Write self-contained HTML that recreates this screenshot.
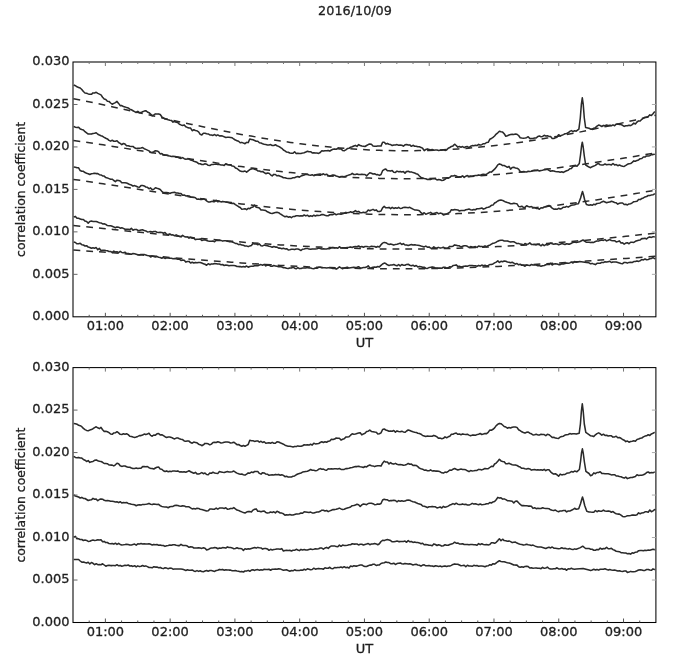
<!DOCTYPE html>
<html><head><meta charset="utf-8"><title>2016/10/09</title>
<style>html,body{margin:0;padding:0;background:#fff;width:674px;height:665px;overflow:hidden}svg{display:block}</style>
</head><body>
<svg width="674" height="665" viewBox="0 0 674 665" font-family="'DejaVu Sans', 'Liberation Sans', sans-serif" fill="#000"><style>text{fill:#1e1e1e;stroke:#1e1e1e;stroke-width:0.3px}</style><text x="355" y="14.8" text-anchor="middle" font-size="12.8">2016/10/09</text>
<polyline points="73.5,98.7 83.4,100.7 93.2,102.7 103.1,104.8 113.0,106.9 122.8,109.1 132.7,111.3 142.6,113.5 152.4,115.7 162.3,117.9 172.1,120.1 182.0,122.3 191.9,124.4 201.7,126.5 211.6,128.6 221.5,130.6 231.3,132.5 241.2,134.4 251.1,136.1 260.9,137.8 270.8,139.5 280.7,141.0 290.5,142.4 300.4,143.8 310.2,145.0 320.1,146.1 330.0,147.1 339.8,148.0 349.7,148.8 359.6,149.4 369.4,149.9 379.3,150.3 389.2,150.6 399.0,150.7 408.9,150.8 418.8,150.6 428.6,150.4 438.5,150.0 448.3,149.5 458.2,148.9 468.1,148.2 477.9,147.3 487.8,146.3 497.7,145.2 507.5,144.0 517.4,142.7 527.3,141.3 537.1,139.7 547.0,138.1 556.9,136.4 566.7,134.6 576.6,132.7 586.4,130.7 596.3,128.6 606.2,126.5 616.0,124.4 625.9,122.1 635.8,119.9 645.6,117.6 655.5,115.3" fill="none" stroke="#2a2a2a" stroke-width="1.5" stroke-dasharray="6.8,6" />
<polyline points="73.5,140.6 83.4,141.9 93.2,143.4 103.1,144.8 113.0,146.4 122.8,147.9 132.7,149.5 142.6,151.1 152.4,152.7 162.3,154.4 172.1,156.0 182.0,157.6 191.9,159.2 201.7,160.7 211.6,162.2 221.5,163.7 231.3,165.2 241.2,166.6 251.1,167.9 260.9,169.2 270.8,170.4 280.7,171.5 290.5,172.6 300.4,173.6 310.2,174.5 320.1,175.3 330.0,176.1 339.8,176.7 349.7,177.3 359.6,177.8 369.4,178.1 379.3,178.4 389.2,178.6 399.0,178.7 408.9,178.7 418.8,178.6 428.6,178.4 438.5,178.1 448.3,177.7 458.2,177.2 468.1,176.7 477.9,176.0 487.8,175.3 497.7,174.4 507.5,173.5 517.4,172.5 527.3,171.5 537.1,170.3 547.0,169.1 556.9,167.9 566.7,166.6 576.6,165.2 586.4,163.8 596.3,162.3 606.2,160.8 616.0,159.3 625.9,157.8 635.8,156.2 645.6,154.6 655.5,153.1" fill="none" stroke="#2a2a2a" stroke-width="1.5" stroke-dasharray="6.8,6" />
<polyline points="73.5,179.4 83.4,180.8 93.2,182.3 103.1,183.8 113.0,185.3 122.8,186.8 132.7,188.3 142.6,189.9 152.4,191.4 162.3,192.9 172.1,194.4 182.0,195.8 191.9,197.3 201.7,198.7 211.6,200.0 221.5,201.4 231.3,202.6 241.2,203.9 251.1,205.1 260.9,206.2 270.8,207.3 280.7,208.3 290.5,209.2 300.4,210.1 310.2,210.9 320.1,211.6 330.0,212.3 339.8,212.9 349.7,213.4 359.6,213.8 369.4,214.2 379.3,214.4 389.2,214.6 399.0,214.7 408.9,214.8 418.8,214.7 428.6,214.5 438.5,214.3 448.3,214.0 458.2,213.6 468.1,213.1 477.9,212.6 487.8,211.9 497.7,211.2 507.5,210.4 517.4,209.5 527.3,208.5 537.1,207.5 547.0,206.4 556.9,205.2 566.7,204.0 576.6,202.7 586.4,201.3 596.3,199.9 606.2,198.4 616.0,196.8 625.9,195.3 635.8,193.6 645.6,191.9 655.5,190.2" fill="none" stroke="#2a2a2a" stroke-width="1.5" stroke-dasharray="6.8,6" />
<polyline points="73.5,225.6 83.4,226.5 93.2,227.5 103.1,228.5 113.0,229.5 122.8,230.6 132.7,231.6 142.6,232.6 152.4,233.6 162.3,234.6 172.1,235.6 182.0,236.6 191.9,237.6 201.7,238.5 211.6,239.4 221.5,240.3 231.3,241.2 241.2,242.0 251.1,242.8 260.9,243.5 270.8,244.2 280.7,244.9 290.5,245.5 300.4,246.1 310.2,246.6 320.1,247.1 330.0,247.5 339.8,247.9 349.7,248.2 359.6,248.5 369.4,248.7 379.3,248.9 389.2,249.0 399.0,249.1 408.9,249.1 418.8,249.0 428.6,248.9 438.5,248.7 448.3,248.5 458.2,248.2 468.1,247.9 477.9,247.5 487.8,247.1 497.7,246.6 507.5,246.1 517.4,245.5 527.3,244.9 537.1,244.2 547.0,243.5 556.9,242.7 566.7,241.9 576.6,241.0 586.4,240.2 596.3,239.2 606.2,238.3 616.0,237.3 625.9,236.3 635.8,235.3 645.6,234.2 655.5,233.2" fill="none" stroke="#2a2a2a" stroke-width="1.5" stroke-dasharray="6.8,6" />
<polyline points="73.5,250.0 83.4,250.7 93.2,251.4 103.1,252.1 113.0,252.8 122.8,253.6 132.7,254.3 142.6,255.1 152.4,255.9 162.3,256.8 172.1,257.6 182.0,258.4 191.9,259.2 201.7,260.0 211.6,260.7 221.5,261.5 231.3,262.2 241.2,262.9 251.1,263.6 260.9,264.2 270.8,264.8 280.7,265.4 290.5,265.9 300.4,266.4 310.2,266.9 320.1,267.3 330.0,267.6 339.8,267.9 349.7,268.2 359.6,268.4 369.4,268.6 379.3,268.7 389.2,268.8 399.0,268.8 408.9,268.8 418.8,268.7 428.6,268.6 438.5,268.4 448.3,268.2 458.2,267.9 468.1,267.6 477.9,267.2 487.8,266.8 497.7,266.4 507.5,265.9 517.4,265.4 527.3,264.9 537.1,264.3 547.0,263.7 556.9,263.1 566.7,262.5 576.6,261.8 586.4,261.1 596.3,260.4 606.2,259.7 616.0,259.0 625.9,258.4 635.8,257.7 645.6,257.0 655.5,256.3" fill="none" stroke="#2a2a2a" stroke-width="1.5" stroke-dasharray="6.8,6" />
<polyline points="73.8,85.0 75.4,85.7 77.0,86.8 78.6,87.4 80.2,88.0 81.8,89.5 83.4,91.5 85.0,93.0 86.6,93.2 88.2,93.9 89.8,94.3 91.4,94.3 93.0,92.9 94.6,93.0 96.2,92.3 97.8,93.4 99.4,94.1 101.0,94.9 102.6,97.3 104.2,99.0 105.8,99.5 107.4,101.3 109.0,101.4 110.6,103.0 112.2,104.2 113.8,103.4 115.4,102.6 117.0,101.4 118.6,103.4 120.2,105.6 121.8,105.6 123.4,106.5 125.0,106.9 126.6,107.6 128.2,107.9 129.8,109.1 131.4,109.8 133.0,110.7 134.6,111.6 136.2,112.5 137.8,111.3 139.4,112.7 141.0,112.6 142.6,111.8 144.2,111.1 145.8,110.7 147.4,112.0 149.0,112.7 150.6,114.1 152.2,115.7 153.8,114.9 155.4,113.9 157.0,114.1 158.6,113.9 160.2,114.5 161.8,116.8 163.4,117.9 165.0,119.1 166.6,119.2 168.2,119.8 169.8,120.3 171.4,120.4 173.0,122.1 174.6,121.5 176.2,122.2 177.8,122.6 179.4,124.2 181.0,124.9 182.6,125.4 184.2,124.9 185.8,126.7 187.4,127.4 189.0,127.9 190.6,128.1 192.2,130.7 193.8,129.8 195.4,130.5 197.0,130.8 198.6,131.8 200.2,134.3 201.8,134.9 203.4,133.2 205.0,133.2 206.6,133.7 208.2,133.9 209.8,134.9 211.4,134.9 213.0,135.4 214.6,134.5 216.2,135.7 217.8,134.9 219.4,135.9 221.0,135.7 222.6,136.1 224.2,136.8 225.8,137.4 227.4,137.3 229.0,137.3 230.6,137.4 232.2,137.8 233.8,139.0 235.4,140.1 237.0,140.7 238.6,141.3 240.2,142.8 241.8,142.4 243.4,143.1 245.0,143.7 246.6,142.4 248.2,142.6 249.8,139.0 251.4,139.4 253.0,139.8 254.6,140.5 256.2,141.2 257.8,141.2 259.4,142.8 261.0,143.1 262.6,143.7 264.2,144.2 265.8,144.5 267.4,144.9 269.0,144.9 270.6,144.6 272.2,145.5 273.8,145.4 275.4,144.8 277.0,145.7 278.6,146.4 280.2,147.3 281.8,148.3 283.4,150.0 285.0,150.9 286.6,152.1 288.2,152.2 289.8,153.0 291.4,153.3 293.0,153.3 294.6,151.8 296.2,153.6 297.8,153.3 299.4,153.4 301.0,153.4 302.6,153.1 304.2,152.7 305.8,152.1 307.4,151.2 309.0,151.8 310.6,151.7 312.2,152.9 313.8,152.7 315.4,153.1 317.0,153.0 318.6,153.4 320.2,152.5 321.8,150.7 323.4,151.1 325.0,150.7 326.6,150.8 328.2,150.5 329.8,151.1 331.4,150.0 333.0,149.3 334.6,148.9 336.2,149.3 337.8,148.5 339.4,149.0 341.0,148.7 342.6,150.6 344.2,150.7 345.8,149.9 347.4,148.6 349.0,148.2 350.6,147.3 352.2,146.8 353.8,146.0 355.4,145.4 357.0,146.4 358.6,144.6 360.2,145.5 361.8,146.1 363.4,146.3 365.0,146.5 366.6,145.5 368.2,144.6 369.8,144.1 371.4,144.3 373.0,146.0 374.6,146.2 376.2,146.2 377.8,145.9 379.4,146.0 381.0,146.1 382.6,142.3 384.2,142.3 385.8,143.9 387.4,143.4 389.0,144.2 390.6,144.6 392.2,145.5 393.8,145.0 395.4,145.0 397.0,144.6 398.6,145.3 400.2,145.0 401.8,145.2 403.4,146.1 405.0,144.8 406.6,144.5 408.2,145.1 409.8,144.9 411.4,146.3 413.0,145.3 414.6,146.2 416.2,146.2 417.8,146.8 419.4,146.8 421.0,147.4 422.6,148.2 424.2,150.6 425.8,149.5 427.4,148.9 429.0,149.5 430.6,150.1 432.2,149.5 433.8,150.2 435.4,149.9 437.0,149.9 438.6,150.4 440.2,150.3 441.8,150.2 443.4,149.7 445.0,150.4 446.6,150.0 448.2,148.2 449.8,147.5 451.4,146.4 453.0,145.9 454.6,144.2 456.2,145.5 457.8,147.1 459.4,146.6 461.0,147.2 462.6,146.6 464.2,147.6 465.8,146.8 467.4,146.5 469.0,147.7 470.6,146.3 472.2,145.6 473.8,145.8 475.4,145.3 477.0,145.6 478.6,144.4 480.2,145.0 481.8,144.7 483.4,143.7 485.0,143.7 486.6,142.5 488.2,142.3 489.8,139.3 491.4,138.5 493.0,137.3 494.6,136.0 496.2,134.1 497.8,132.8 499.4,131.2 501.0,131.8 502.6,132.1 504.2,133.8 505.8,136.2 507.4,135.7 509.0,135.0 510.6,134.4 512.2,134.3 513.8,134.4 515.4,134.1 517.0,134.3 518.6,135.5 520.2,137.7 521.8,138.1 523.4,138.2 525.0,138.0 526.6,137.7 528.2,136.7 529.8,138.6 531.4,138.6 533.0,138.4 534.6,137.9 536.2,137.9 537.8,136.6 539.4,136.1 541.0,136.7 542.6,136.4 544.2,135.3 545.8,135.9 547.4,135.7 549.0,136.4 550.6,136.6 552.2,138.4 553.8,138.5 555.4,137.7 557.0,137.2 558.6,134.7 560.2,135.9 561.8,135.3 563.4,134.6 565.0,133.8 566.6,133.5 568.2,132.8 569.8,131.4 571.4,130.6 573.0,131.6 574.6,130.7 576.2,131.2 578.9,129.1 580.3,118.0 581.4,104.0 582.3,97.8 583.2,104.0 584.3,118.0 585.6,127.5 589.0,128.2 590.6,129.1 592.2,129.1 593.8,128.3 595.4,127.6 597.0,126.1 598.6,125.1 600.2,125.6 601.8,126.5 603.4,125.4 605.0,125.8 606.6,125.0 608.2,125.4 609.8,125.3 611.4,125.7 613.0,124.9 614.6,125.7 616.2,124.1 617.8,124.1 619.4,124.4 621.0,124.6 622.6,125.3 624.2,126.4 625.8,125.7 627.4,125.8 629.0,125.3 630.6,125.6 632.2,124.6 633.8,123.1 635.4,124.0 637.0,122.0 638.6,120.9 640.2,121.0 641.8,119.3 643.4,118.1 645.0,117.3 646.6,117.0 648.2,116.5 649.8,114.9 651.4,115.5 653.0,113.7 654.6,111.8 654.8,111.8" fill="none" stroke="#2a2a2a" stroke-width="1.55" stroke-linejoin="round" />
<polyline points="73.8,126.4 75.4,127.2 77.0,127.5 78.6,127.2 80.2,128.9 81.8,129.5 83.4,129.9 85.0,131.7 86.6,132.9 88.2,134.0 89.8,133.9 91.4,134.1 93.0,133.5 94.6,133.3 96.2,132.7 97.8,134.2 99.4,135.0 101.0,135.7 102.6,136.3 104.2,137.4 105.8,138.3 107.4,138.9 109.0,140.4 110.6,141.1 112.2,140.3 113.8,141.2 115.4,141.2 117.0,140.8 118.6,142.5 120.2,143.4 121.8,144.6 123.4,143.5 125.0,144.1 126.6,145.7 128.2,145.7 129.8,146.3 131.4,146.4 133.0,146.4 134.6,147.8 136.2,148.4 137.8,148.3 139.4,148.2 141.0,148.1 142.6,147.6 144.2,148.7 145.8,149.4 147.4,150.1 149.0,150.9 150.6,152.3 152.2,152.5 153.8,151.7 155.4,150.7 157.0,150.9 158.6,151.7 160.2,153.9 161.8,153.6 163.4,155.1 165.0,155.3 166.6,155.2 168.2,155.8 169.8,156.1 171.4,156.4 173.0,156.2 174.6,156.4 176.2,157.3 177.8,157.3 179.4,157.9 181.0,158.4 182.6,157.6 184.2,158.7 185.8,159.3 187.4,158.9 189.0,158.8 190.6,160.1 192.2,160.4 193.8,161.2 195.4,161.7 197.0,162.3 198.6,163.7 200.2,163.7 201.8,164.5 203.4,164.4 205.0,163.8 206.6,164.2 208.2,165.3 209.8,165.5 211.4,164.6 213.0,164.5 214.6,164.3 216.2,163.9 217.8,164.5 219.4,164.6 221.0,164.9 222.6,165.0 224.2,165.4 225.8,163.7 227.4,164.4 229.0,164.7 230.6,164.7 232.2,166.1 233.8,166.3 235.4,167.9 237.0,168.5 238.6,169.9 240.2,171.0 241.8,171.5 243.4,171.6 245.0,171.0 246.6,172.2 248.2,170.8 249.8,169.6 251.4,169.0 253.0,168.5 254.6,169.2 256.2,169.7 257.8,170.9 259.4,171.0 261.0,171.8 262.6,171.5 264.2,172.6 265.8,173.7 267.4,173.0 269.0,173.3 270.6,174.8 272.2,175.9 273.8,174.4 275.4,174.5 277.0,175.8 278.6,175.6 280.2,176.2 281.8,176.8 283.4,177.7 285.0,177.7 286.6,178.3 288.2,178.4 289.8,178.5 291.4,178.4 293.0,177.7 294.6,177.8 296.2,176.9 297.8,176.5 299.4,177.2 301.0,176.0 302.6,175.4 304.2,175.0 305.8,174.3 307.4,174.6 309.0,175.1 310.6,175.2 312.2,174.7 313.8,175.7 315.4,175.1 317.0,174.6 318.6,174.3 320.2,174.1 321.8,174.7 323.4,173.8 325.0,174.8 326.6,174.2 328.2,175.6 329.8,176.2 331.4,175.4 333.0,174.9 334.6,175.3 336.2,176.0 337.8,176.4 339.4,177.2 341.0,176.6 342.6,176.4 344.2,176.8 345.8,176.2 347.4,175.6 349.0,174.9 350.6,174.6 352.2,173.4 353.8,174.5 355.4,174.4 357.0,173.9 358.6,174.5 360.2,174.6 361.8,174.3 363.4,174.6 365.0,174.5 366.6,175.9 368.2,174.3 369.8,172.8 371.4,173.2 373.0,174.0 374.6,173.7 376.2,174.7 377.8,174.6 379.4,175.4 381.0,174.5 382.6,170.7 384.2,169.6 385.8,169.1 387.4,170.8 389.0,170.7 390.6,171.1 392.2,170.6 393.8,172.2 395.4,172.4 397.0,171.1 398.6,171.8 400.2,171.4 401.8,172.0 403.4,171.6 405.0,173.1 406.6,171.4 408.2,171.3 409.8,172.0 411.4,171.9 413.0,172.6 414.6,173.0 416.2,173.7 417.8,174.3 419.4,176.0 421.0,177.4 422.6,177.9 424.2,178.5 425.8,178.8 427.4,179.5 429.0,179.2 430.6,179.4 432.2,178.8 433.8,178.8 435.4,178.8 437.0,180.0 438.6,179.5 440.2,179.8 441.8,180.5 443.4,180.2 445.0,179.3 446.6,178.0 448.2,178.3 449.8,177.4 451.4,175.9 453.0,176.1 454.6,175.4 456.2,175.9 457.8,176.9 459.4,176.7 461.0,176.8 462.6,175.9 464.2,177.4 465.8,176.2 467.4,175.6 469.0,176.5 470.6,176.0 472.2,176.2 473.8,175.7 475.4,175.6 477.0,175.5 478.6,174.9 480.2,175.3 481.8,174.6 483.4,174.2 485.0,174.4 486.6,174.2 488.2,173.1 489.8,172.0 491.4,172.1 493.0,170.6 494.6,169.2 496.2,167.3 497.8,164.9 499.4,163.9 501.0,164.4 502.6,165.6 504.2,165.5 505.8,166.4 507.4,167.3 509.0,166.3 510.6,169.1 512.2,167.5 513.8,167.3 515.4,167.9 517.0,168.2 518.6,169.1 520.2,171.5 521.8,171.9 523.4,171.5 525.0,171.8 526.6,172.0 528.2,171.2 529.8,171.5 531.4,171.2 533.0,170.6 534.6,170.2 536.2,170.6 537.8,170.2 539.4,171.0 541.0,170.4 542.6,170.3 544.2,169.6 545.8,169.6 547.4,169.4 549.0,170.4 550.6,171.3 552.2,170.7 553.8,171.0 555.4,171.6 557.0,171.7 558.6,171.8 560.2,172.3 561.8,171.8 563.4,172.4 565.0,171.5 566.6,170.8 568.2,170.3 569.8,168.8 571.4,168.5 573.0,166.4 574.6,165.9 576.2,166.1 577.0,166.3 579.3,163.5 580.5,155.0 581.5,146.5 582.3,142.2 583.2,147.0 584.3,156.0 585.7,165.0 589.0,167.1 590.6,167.7 592.2,166.7 593.8,166.1 595.4,165.4 597.0,164.1 598.6,163.6 600.2,164.8 601.8,164.9 603.4,164.9 605.0,164.0 606.6,164.8 608.2,164.4 609.8,164.5 611.4,164.9 613.0,163.5 614.6,164.9 616.2,164.6 617.8,165.7 619.4,165.1 621.0,165.7 622.6,166.2 624.2,166.4 625.8,165.4 627.4,164.3 629.0,163.8 630.6,163.6 632.2,162.4 633.8,160.9 635.4,161.3 637.0,160.4 638.6,159.9 640.2,158.7 641.8,158.5 643.4,157.0 645.0,157.0 646.6,155.9 648.2,155.9 649.8,155.7 651.4,154.6 653.0,154.6 654.6,154.3 654.8,154.2" fill="none" stroke="#2a2a2a" stroke-width="1.55" stroke-linejoin="round" />
<polyline points="73.8,167.0 75.4,167.2 77.0,167.7 78.6,167.8 80.2,170.6 81.8,171.2 83.4,171.3 85.0,172.6 86.6,173.2 88.2,173.7 89.8,174.5 91.4,173.8 93.0,173.6 94.6,173.2 96.2,173.6 97.8,173.6 99.4,174.7 101.0,174.9 102.6,175.9 104.2,176.1 105.8,177.6 107.4,177.9 109.0,178.6 110.6,179.3 112.2,179.2 113.8,180.5 115.4,181.6 117.0,180.2 118.6,180.4 120.2,180.9 121.8,182.8 123.4,182.7 125.0,182.7 126.6,183.0 128.2,183.7 129.8,184.6 131.4,185.0 133.0,186.1 134.6,185.6 136.2,186.3 137.8,187.0 139.4,187.2 141.0,185.6 142.6,185.5 144.2,185.9 145.8,187.0 147.4,187.3 149.0,188.7 150.6,187.9 152.2,189.8 153.8,189.3 155.4,187.8 157.0,188.3 158.6,188.7 160.2,189.5 161.8,191.3 163.4,192.7 165.0,192.5 166.6,192.6 168.2,192.7 169.8,193.4 171.4,192.8 173.0,192.5 174.6,192.3 176.2,193.1 177.8,193.0 179.4,193.4 181.0,193.4 182.6,195.3 184.2,195.0 185.8,195.9 187.4,195.8 189.0,195.9 190.6,197.0 192.2,197.3 193.8,197.2 195.4,197.7 197.0,199.3 198.6,199.1 200.2,199.4 201.8,199.4 203.4,198.8 205.0,199.4 206.6,200.8 208.2,201.9 209.8,202.0 211.4,201.4 213.0,201.6 214.6,201.6 216.2,200.4 217.8,201.8 219.4,201.2 221.0,201.9 222.6,201.4 224.2,201.7 225.8,202.0 227.4,202.3 229.0,202.8 230.6,203.2 232.2,203.4 233.8,203.3 235.4,204.6 237.0,205.6 238.6,206.7 240.2,207.5 241.8,209.2 243.4,209.0 245.0,208.7 246.6,209.7 248.2,208.3 249.8,208.7 251.4,207.4 253.0,207.0 254.6,205.1 256.2,207.2 257.8,207.5 259.4,208.0 261.0,210.0 262.6,210.1 264.2,210.2 265.8,210.6 267.4,211.8 269.0,212.5 270.6,213.2 272.2,213.5 273.8,212.9 275.4,212.4 277.0,212.3 278.6,212.7 280.2,213.9 281.8,214.8 283.4,215.9 285.0,216.7 286.6,216.2 288.2,217.2 289.8,216.7 291.4,217.7 293.0,216.5 294.6,216.5 296.2,215.8 297.8,215.7 299.4,216.1 301.0,215.7 302.6,216.0 304.2,215.0 305.8,215.9 307.4,215.2 309.0,216.5 310.6,215.7 312.2,216.4 313.8,215.2 315.4,216.0 317.0,215.3 318.6,215.4 320.2,215.2 321.8,214.6 323.4,214.6 325.0,215.3 326.6,215.8 328.2,215.7 329.8,214.8 331.4,214.6 333.0,214.6 334.6,213.6 336.2,214.8 337.8,214.1 339.4,213.9 341.0,214.3 342.6,213.8 344.2,213.3 345.8,212.4 347.4,212.8 349.0,212.6 350.6,211.8 352.2,212.4 353.8,211.8 355.4,210.6 357.0,211.8 358.6,211.4 360.2,212.7 361.8,212.8 363.4,212.3 365.0,212.8 366.6,211.9 368.2,210.1 369.8,210.7 371.4,210.1 373.0,209.4 374.6,210.4 376.2,209.9 377.8,211.5 379.4,211.6 381.0,211.0 382.6,207.8 384.2,206.4 385.8,207.8 387.4,207.8 389.0,207.4 390.6,208.7 392.2,207.4 393.8,208.4 395.4,207.8 397.0,208.3 398.6,207.3 400.2,208.5 401.8,208.2 403.4,207.4 405.0,207.3 406.6,207.5 408.2,207.7 409.8,207.3 411.4,208.3 413.0,209.1 414.6,209.9 416.2,210.1 417.8,210.3 419.4,210.7 421.0,212.7 422.6,213.8 424.2,212.7 425.8,214.3 427.4,213.6 429.0,213.1 430.6,212.4 432.2,213.6 433.8,213.6 435.4,213.0 437.0,212.5 438.6,213.8 440.2,213.1 441.8,213.4 443.4,215.0 445.0,214.6 446.6,213.9 448.2,213.1 449.8,212.3 451.4,209.7 453.0,210.1 454.6,209.6 456.2,209.7 457.8,209.9 459.4,211.0 461.0,210.6 462.6,210.5 464.2,210.6 465.8,209.7 467.4,209.4 469.0,209.1 470.6,209.7 472.2,210.1 473.8,209.5 475.4,209.7 477.0,208.8 478.6,208.8 480.2,208.4 481.8,208.0 483.4,209.1 485.0,208.5 486.6,207.6 488.2,207.2 489.8,206.7 491.4,205.3 493.0,205.1 494.6,203.0 496.2,202.2 497.8,201.0 499.4,200.2 501.0,200.1 502.6,200.4 504.2,201.3 505.8,202.1 507.4,202.6 509.0,203.0 510.6,203.8 512.2,203.7 513.8,203.2 515.4,203.6 517.0,203.8 518.6,206.4 520.2,206.7 521.8,206.2 523.4,207.4 525.0,207.4 526.6,205.7 528.2,206.5 529.8,206.9 531.4,206.6 533.0,207.4 534.6,207.6 536.2,208.4 537.8,208.4 539.4,209.2 541.0,207.7 542.6,208.0 544.2,207.0 545.8,206.7 547.4,206.0 549.0,205.5 550.6,206.6 552.2,208.1 553.8,209.2 555.4,209.0 557.0,209.3 558.6,208.3 560.2,209.0 561.8,208.4 563.4,207.2 565.0,207.2 566.6,206.4 568.2,207.1 569.8,206.1 571.4,205.3 573.0,205.0 574.6,204.7 576.2,204.0 578.4,203.7 580.6,198.0 581.7,194.0 582.5,191.5 583.4,194.5 584.6,199.5 586.4,204.6 589.0,205.2 590.6,204.8 592.2,205.3 593.8,204.2 595.4,204.7 597.0,203.4 598.6,203.2 600.2,202.9 601.8,201.9 603.4,201.3 605.0,202.0 606.6,202.8 608.2,202.3 609.8,202.1 611.4,201.2 613.0,201.8 614.6,202.5 616.2,202.8 617.8,204.1 619.4,203.3 621.0,203.1 622.6,203.0 624.2,204.5 625.8,204.3 627.4,204.9 629.0,203.9 630.6,203.7 632.2,202.9 633.8,201.7 635.4,201.6 637.0,201.3 638.6,199.4 640.2,199.6 641.8,198.5 643.4,197.9 645.0,196.9 646.6,196.6 648.2,195.5 649.8,195.6 651.4,194.9 653.0,194.7 654.6,194.0 654.8,194.2" fill="none" stroke="#2a2a2a" stroke-width="1.55" stroke-linejoin="round" />
<polyline points="73.8,217.0 75.4,216.4 77.0,218.2 78.6,218.3 80.2,218.9 81.8,219.5 83.4,219.5 85.0,221.1 86.6,221.5 88.2,223.1 89.8,221.5 91.4,221.1 93.0,221.4 94.6,221.4 96.2,221.5 97.8,222.1 99.4,222.8 101.0,222.9 102.6,223.9 104.2,223.8 105.8,224.4 107.4,225.6 109.0,225.7 110.6,225.7 112.2,226.3 113.8,226.9 115.4,227.7 117.0,226.9 118.6,227.2 120.2,228.2 121.8,227.7 123.4,228.4 125.0,229.2 126.6,229.2 128.2,229.2 129.8,229.7 131.4,228.3 133.0,230.2 134.6,229.6 136.2,229.4 137.8,230.3 139.4,230.5 141.0,230.0 142.6,229.8 144.2,230.6 145.8,230.9 147.4,231.9 149.0,231.8 150.6,231.6 152.2,232.1 153.8,231.6 155.4,231.4 157.0,232.3 158.6,232.5 160.2,232.3 161.8,232.4 163.4,233.3 165.0,232.5 166.6,234.3 168.2,234.5 169.8,233.9 171.4,235.0 173.0,234.8 174.6,235.8 176.2,234.9 177.8,235.6 179.4,236.4 181.0,236.8 182.6,235.4 184.2,236.4 185.8,237.0 187.4,236.8 189.0,238.1 190.6,237.2 192.2,238.3 193.8,238.1 195.4,239.6 197.0,239.2 198.6,239.3 200.2,238.9 201.8,240.5 203.4,239.9 205.0,239.8 206.6,240.4 208.2,240.9 209.8,241.3 211.4,241.2 213.0,241.0 214.6,241.7 216.2,240.2 217.8,240.4 219.4,240.2 221.0,240.4 222.6,241.1 224.2,240.8 225.8,240.8 227.4,241.3 229.0,241.6 230.6,241.6 232.2,242.1 233.8,242.6 235.4,243.4 237.0,243.6 238.6,244.6 240.2,244.3 241.8,245.1 243.4,245.3 245.0,245.9 246.6,245.9 248.2,246.6 249.8,245.9 251.4,245.5 253.0,243.5 254.6,243.9 256.2,243.9 257.8,244.8 259.4,243.9 261.0,245.7 262.6,245.9 264.2,245.1 265.8,245.4 267.4,245.7 269.0,246.2 270.6,246.6 272.2,247.3 273.8,246.5 275.4,247.1 277.0,247.1 278.6,248.1 280.2,248.1 281.8,248.8 283.4,248.2 285.0,248.9 286.6,248.7 288.2,249.9 289.8,249.7 291.4,249.3 293.0,249.2 294.6,249.6 296.2,249.1 297.8,249.0 299.4,249.6 301.0,250.5 302.6,249.2 304.2,249.0 305.8,248.6 307.4,248.4 309.0,249.1 310.6,249.3 312.2,248.9 313.8,249.0 315.4,248.9 317.0,248.8 318.6,248.0 320.2,248.4 321.8,248.9 323.4,248.7 325.0,249.0 326.6,248.9 328.2,248.6 329.8,248.6 331.4,247.7 333.0,247.6 334.6,247.9 336.2,247.7 337.8,248.3 339.4,246.7 341.0,248.1 342.6,247.7 344.2,247.7 345.8,247.7 347.4,247.5 349.0,247.3 350.6,246.9 352.2,247.5 353.8,246.7 355.4,246.6 357.0,246.8 358.6,246.0 360.2,247.0 361.8,246.5 363.4,247.2 365.0,246.5 366.6,246.6 368.2,246.8 369.8,246.9 371.4,246.2 373.0,246.6 374.6,246.5 376.2,247.3 377.8,246.4 379.4,247.0 381.0,244.7 382.6,243.1 384.2,242.4 385.8,242.7 387.4,243.7 389.0,244.4 390.6,244.1 392.2,244.5 393.8,245.1 395.4,244.4 397.0,244.2 398.6,243.8 400.2,243.1 401.8,244.5 403.4,243.6 405.0,245.0 406.6,244.9 408.2,245.4 409.8,244.9 411.4,244.5 413.0,245.1 414.6,244.8 416.2,245.1 417.8,245.3 419.4,245.6 421.0,246.1 422.6,246.4 424.2,246.9 425.8,246.1 427.4,247.2 429.0,246.9 430.6,248.1 432.2,248.3 433.8,246.9 435.4,248.0 437.0,247.8 438.6,247.4 440.2,248.1 441.8,247.8 443.4,247.3 445.0,248.1 446.6,248.2 448.2,247.7 449.8,246.4 451.4,246.6 453.0,246.2 454.6,244.9 456.2,245.3 457.8,245.8 459.4,245.8 461.0,247.0 462.6,246.3 464.2,245.7 465.8,245.8 467.4,246.3 469.0,247.5 470.6,246.6 472.2,246.9 473.8,247.0 475.4,246.6 477.0,247.4 478.6,246.0 480.2,246.6 481.8,246.4 483.4,246.7 485.0,245.9 486.6,246.8 488.2,245.5 489.8,245.2 491.4,244.1 493.0,243.3 494.6,242.9 496.2,242.2 497.8,241.2 499.4,240.5 501.0,240.3 502.6,240.3 504.2,240.9 505.8,241.0 507.4,240.9 509.0,241.5 510.6,242.0 512.2,241.8 513.8,241.8 515.4,242.6 517.0,243.6 518.6,243.4 520.2,244.1 521.8,244.3 523.4,245.0 525.0,243.6 526.6,244.2 528.2,244.1 529.8,242.9 531.4,244.4 533.0,244.5 534.6,244.5 536.2,244.9 537.8,244.2 539.4,244.7 541.0,245.8 542.6,244.4 544.2,245.6 545.8,244.6 547.4,244.9 549.0,244.3 550.6,243.1 552.2,243.8 553.8,244.3 555.4,243.8 557.0,243.9 558.6,244.8 560.2,244.3 561.8,243.6 563.4,243.9 565.0,244.5 566.6,243.7 568.2,244.1 569.8,244.1 571.4,243.2 573.0,242.4 574.6,242.1 576.2,242.4 579.6,241.8 583.0,240.0 586.5,242.3 589.0,242.2 590.6,242.6 592.2,242.3 593.8,242.4 595.4,241.5 597.0,241.0 598.6,241.1 600.2,240.4 601.8,240.1 603.4,240.4 605.0,239.6 606.6,240.9 608.2,240.2 609.8,239.6 611.4,240.5 613.0,240.8 614.6,240.7 616.2,241.9 617.8,241.5 619.4,240.9 621.0,243.0 622.6,242.8 624.2,244.1 625.8,243.1 627.4,242.7 629.0,243.8 630.6,242.2 632.2,242.3 633.8,242.4 635.4,241.3 637.0,240.7 638.6,240.2 640.2,239.9 641.8,238.6 643.4,238.6 645.0,238.3 646.6,238.9 648.2,237.5 649.8,236.9 651.4,237.4 653.0,236.7 654.6,236.8 654.8,236.6" fill="none" stroke="#2a2a2a" stroke-width="1.55" stroke-linejoin="round" />
<polyline points="73.8,242.1 75.4,242.5 77.0,243.8 78.6,243.8 80.2,243.3 81.8,244.7 83.4,245.0 85.0,246.0 86.6,245.7 88.2,247.1 89.8,247.5 91.4,248.3 93.0,247.8 94.6,248.2 96.2,247.6 97.8,249.7 99.4,248.4 101.0,250.4 102.6,250.3 104.2,250.3 105.8,250.6 107.4,250.8 109.0,251.5 110.6,251.5 112.2,252.4 113.8,251.1 115.4,252.0 117.0,251.7 118.6,252.6 120.2,251.4 121.8,252.4 123.4,252.8 125.0,252.2 126.6,253.5 128.2,253.4 129.8,254.0 131.4,254.2 133.0,253.5 134.6,253.7 136.2,254.2 137.8,254.7 139.4,254.9 141.0,254.4 142.6,254.5 144.2,254.6 145.8,255.0 147.4,255.4 149.0,255.7 150.6,257.0 152.2,256.0 153.8,256.4 155.4,257.0 157.0,256.6 158.6,257.2 160.2,257.6 161.8,258.2 163.4,257.3 165.0,258.5 166.6,257.7 168.2,258.0 169.8,258.3 171.4,258.3 173.0,258.7 174.6,258.6 176.2,258.8 177.8,259.3 179.4,259.1 181.0,260.5 182.6,260.0 184.2,260.2 185.8,262.1 187.4,261.5 189.0,261.4 190.6,263.0 192.2,262.2 193.8,263.0 195.4,262.4 197.0,262.8 198.6,262.4 200.2,262.5 201.8,263.1 203.4,263.7 205.0,264.3 206.6,265.2 208.2,263.7 209.8,264.7 211.4,263.9 213.0,264.1 214.6,263.6 216.2,263.7 217.8,264.1 219.4,264.0 221.0,264.7 222.6,264.5 224.2,265.5 225.8,265.1 227.4,265.2 229.0,265.8 230.6,265.6 232.2,265.5 233.8,265.6 235.4,265.8 237.0,266.5 238.6,266.6 240.2,266.6 241.8,267.0 243.4,266.6 245.0,267.0 246.6,266.0 248.2,267.2 249.8,266.5 251.4,266.3 253.0,266.3 254.6,265.8 256.2,265.4 257.8,265.8 259.4,265.1 261.0,264.6 262.6,265.3 264.2,264.4 265.8,265.9 267.4,265.1 269.0,265.2 270.6,266.2 272.2,266.2 273.8,265.5 275.4,265.9 277.0,266.3 278.6,266.8 280.2,266.4 281.8,266.9 283.4,267.8 285.0,267.7 286.6,268.2 288.2,268.4 289.8,267.9 291.4,268.0 293.0,267.2 294.6,268.2 296.2,268.8 297.8,267.6 299.4,268.6 301.0,268.4 302.6,267.9 304.2,267.9 305.8,267.9 307.4,267.5 309.0,267.9 310.6,268.1 312.2,268.6 313.8,268.8 315.4,267.9 317.0,268.3 318.6,267.3 320.2,267.3 321.8,267.7 323.4,267.7 325.0,267.7 326.6,268.0 328.2,267.8 329.8,267.8 331.4,268.1 333.0,268.6 334.6,268.2 336.2,269.1 337.8,268.3 339.4,266.8 341.0,267.9 342.6,268.7 344.2,267.9 345.8,267.6 347.4,267.2 349.0,268.1 350.6,267.8 352.2,267.5 353.8,267.2 355.4,267.4 357.0,267.3 358.6,266.7 360.2,268.0 361.8,267.9 363.4,267.5 365.0,267.6 366.6,267.1 368.2,265.8 369.8,267.9 371.4,267.8 373.0,267.3 374.6,267.1 376.2,267.3 377.8,266.5 379.4,266.9 381.0,265.4 382.6,264.0 384.2,263.1 385.8,263.6 387.4,264.8 389.0,265.4 390.6,265.1 392.2,264.9 393.8,264.5 395.4,265.2 397.0,265.8 398.6,264.5 400.2,265.9 401.8,264.5 403.4,265.2 405.0,265.3 406.6,264.4 408.2,264.3 409.8,265.2 411.4,265.7 413.0,265.2 414.6,266.3 416.2,265.5 417.8,266.9 419.4,266.4 421.0,266.7 422.6,267.2 424.2,267.3 425.8,268.2 427.4,268.4 429.0,267.6 430.6,267.3 432.2,266.9 433.8,267.3 435.4,267.9 437.0,268.1 438.6,268.1 440.2,268.1 441.8,268.2 443.4,267.3 445.0,267.3 446.6,268.1 448.2,267.8 449.8,266.7 451.4,267.0 453.0,265.6 454.6,265.3 456.2,264.9 457.8,266.4 459.4,266.3 461.0,266.9 462.6,266.6 464.2,266.2 465.8,266.0 467.4,266.3 469.0,265.6 470.6,265.5 472.2,265.6 473.8,265.8 475.4,265.8 477.0,266.3 478.6,265.4 480.2,266.0 481.8,265.1 483.4,265.7 485.0,265.3 486.6,266.0 488.2,265.4 489.8,264.6 491.4,264.5 493.0,263.9 494.6,262.9 496.2,262.1 497.8,260.9 499.4,262.5 501.0,261.3 502.6,261.7 504.2,261.0 505.8,261.3 507.4,262.0 509.0,262.2 510.6,262.8 512.2,262.2 513.8,263.1 515.4,264.1 517.0,263.5 518.6,264.8 520.2,264.2 521.8,265.1 523.4,265.3 525.0,266.2 526.6,265.0 528.2,265.3 529.8,265.6 531.4,264.5 533.0,265.1 534.6,264.9 536.2,265.0 537.8,265.7 539.4,265.6 541.0,266.3 542.6,265.7 544.2,265.5 545.8,264.7 547.4,264.5 549.0,264.6 550.6,263.3 552.2,265.0 553.8,263.9 555.4,263.7 557.0,264.0 558.6,264.6 560.2,264.6 561.8,263.7 563.4,263.9 565.0,263.5 566.6,262.9 568.2,263.2 569.8,262.9 571.4,262.0 573.0,263.0 574.6,261.6 576.2,262.2 579.6,261.6 586.5,262.5 589.0,262.8 590.6,263.8 592.2,263.4 593.8,264.1 595.4,264.6 597.0,263.3 598.6,263.3 600.2,263.3 601.8,262.4 603.4,262.6 605.0,261.8 606.6,262.1 608.2,261.7 609.8,261.3 611.4,262.5 613.0,261.9 614.6,262.0 616.2,262.0 617.8,262.5 619.4,263.0 621.0,263.5 622.6,263.7 624.2,262.4 625.8,262.6 627.4,263.1 629.0,262.4 630.6,262.2 632.2,262.5 633.8,261.6 635.4,261.4 637.0,260.9 638.6,261.4 640.2,260.7 641.8,259.6 643.4,259.9 645.0,259.0 646.6,259.8 648.2,259.4 649.8,258.8 651.4,258.5 653.0,257.6 654.6,258.6 654.8,258.2" fill="none" stroke="#2a2a2a" stroke-width="1.55" stroke-linejoin="round" />
<rect x="73.0" y="62.0" width="582.9" height="254.8" fill="none" stroke="#000" stroke-width="1.05"/>
<path d="M89.19,316.8v-2M105.38,316.8v-4M121.57,316.8v-2M137.77,316.8v-2M153.96,316.8v-2M170.15,316.8v-4M186.34,316.8v-2M202.53,316.8v-2M218.72,316.8v-2M234.92,316.8v-4M251.11,316.8v-2M267.30,316.8v-2M283.49,316.8v-2M299.68,316.8v-4M315.88,316.8v-2M332.07,316.8v-2M348.26,316.8v-2M364.45,316.8v-4M380.64,316.8v-2M396.83,316.8v-2M413.03,316.8v-2M429.22,316.8v-4M445.41,316.8v-2M461.60,316.8v-2M477.79,316.8v-2M493.98,316.8v-4M510.17,316.8v-2M526.37,316.8v-2M542.56,316.8v-2M558.75,316.8v-4M574.94,316.8v-2M591.13,316.8v-2M607.32,316.8v-2M623.52,316.8v-4M639.71,316.8v-2" stroke="#555" stroke-width="1" fill="none"/>
<path d="M89.19,62.0v2M105.38,62.0v4M121.57,62.0v2M137.77,62.0v2M153.96,62.0v2M170.15,62.0v4M186.34,62.0v2M202.53,62.0v2M218.72,62.0v2M234.92,62.0v4M251.11,62.0v2M267.30,62.0v2M283.49,62.0v2M299.68,62.0v4M315.88,62.0v2M332.07,62.0v2M348.26,62.0v2M364.45,62.0v4M380.64,62.0v2M396.83,62.0v2M413.03,62.0v2M429.22,62.0v4M445.41,62.0v2M461.60,62.0v2M477.79,62.0v2M493.98,62.0v4M510.17,62.0v2M526.37,62.0v2M542.56,62.0v2M558.75,62.0v4M574.94,62.0v2M591.13,62.0v2M607.32,62.0v2M623.52,62.0v4M639.71,62.0v2" stroke="#777" stroke-width="1" fill="none"/>
<path d="M73.0,274.33h4.5M73.0,231.87h4.5M73.0,189.40h4.5M73.0,146.93h4.5M73.0,104.47h4.5" stroke="#666" stroke-width="1" fill="none"/>
<path d="M655.9,274.33h-4M655.9,231.87h-4M655.9,189.40h-4M655.9,146.93h-4M655.9,104.47h-4" stroke="#aaa" stroke-width="1" fill="none"/>
<text x="105.4" y="330.1" text-anchor="middle" font-size="13">01:00</text>
<text x="170.1" y="330.1" text-anchor="middle" font-size="13">02:00</text>
<text x="234.9" y="330.1" text-anchor="middle" font-size="13">03:00</text>
<text x="299.7" y="330.1" text-anchor="middle" font-size="13">04:00</text>
<text x="364.4" y="330.1" text-anchor="middle" font-size="13">05:00</text>
<text x="429.2" y="330.1" text-anchor="middle" font-size="13">06:00</text>
<text x="494.0" y="330.1" text-anchor="middle" font-size="13">07:00</text>
<text x="558.8" y="330.1" text-anchor="middle" font-size="13">08:00</text>
<text x="623.5" y="330.1" text-anchor="middle" font-size="13">09:00</text>
<text x="69.5" y="320.0" text-anchor="end" font-size="13">0.000</text>
<text x="69.5" y="277.5" text-anchor="end" font-size="13">0.005</text>
<text x="69.5" y="235.1" text-anchor="end" font-size="13">0.010</text>
<text x="69.5" y="192.6" text-anchor="end" font-size="13">0.015</text>
<text x="69.5" y="150.1" text-anchor="end" font-size="13">0.020</text>
<text x="69.5" y="107.7" text-anchor="end" font-size="13">0.025</text>
<text x="69.5" y="65.2" text-anchor="end" font-size="13">0.030</text>
<text x="364.4" y="347.2" text-anchor="middle" font-size="13">UT</text>
<text transform="translate(24.9,189.4) rotate(-90)" text-anchor="middle" font-size="12.4">correlation coefficient</text>
<polyline points="73.8,423.5 75.4,423.7 77.0,424.2 78.6,425.3 80.2,425.7 81.8,426.7 83.4,428.4 85.0,429.6 86.6,430.4 88.2,430.8 89.8,430.1 91.4,429.6 93.0,428.7 94.6,427.6 96.2,426.8 97.8,427.8 99.4,428.6 101.0,427.4 102.6,429.8 104.2,431.4 105.8,431.3 107.4,431.7 109.0,432.6 110.6,434.0 112.2,434.3 113.8,432.9 115.4,432.8 117.0,431.7 118.6,432.9 120.2,434.3 121.8,434.4 123.4,433.8 125.0,434.3 126.6,433.8 128.2,434.6 129.8,436.3 131.4,436.5 133.0,437.1 134.6,437.4 136.2,437.0 137.8,436.4 139.4,435.6 141.0,435.6 142.6,435.0 144.2,434.1 145.8,434.6 147.4,434.0 149.0,433.3 150.6,435.4 152.2,436.2 153.8,435.0 155.4,435.2 157.0,433.8 158.6,433.5 160.2,434.9 161.8,434.7 163.4,435.7 165.0,436.7 166.6,437.5 168.2,437.1 169.8,437.0 171.4,437.4 173.0,438.3 174.6,438.9 176.2,438.1 177.8,437.9 179.4,438.7 181.0,439.2 182.6,439.6 184.2,440.9 185.8,441.3 187.4,440.9 189.0,441.1 190.6,442.6 192.2,443.2 193.8,442.1 195.4,442.4 197.0,442.8 198.6,444.2 200.2,444.7 201.8,445.7 203.4,444.8 205.0,443.4 206.6,443.5 208.2,443.8 209.8,444.8 211.4,444.1 213.0,442.5 214.6,442.2 216.2,442.5 217.8,441.7 219.4,442.3 221.0,442.9 222.6,442.8 224.2,442.3 225.8,441.9 227.4,441.9 229.0,442.3 230.6,443.0 232.2,442.8 233.8,442.2 235.4,443.3 237.0,444.7 238.6,444.5 240.2,445.5 241.8,446.2 243.4,445.5 245.0,446.2 246.6,445.4 248.2,444.5 249.8,440.3 251.4,440.7 253.0,440.7 254.6,441.4 256.2,441.0 257.8,440.9 259.4,442.1 261.0,441.3 262.6,442.5 264.2,441.8 265.8,443.3 267.4,443.0 269.0,442.7 270.6,443.2 272.2,442.4 273.8,443.2 275.4,443.3 277.0,441.7 278.6,442.0 280.2,442.8 281.8,443.4 283.4,444.2 285.0,445.2 286.6,445.8 288.2,446.3 289.8,446.2 291.4,446.6 293.0,446.9 294.6,446.4 296.2,446.6 297.8,445.9 299.4,446.3 301.0,446.3 302.6,445.7 304.2,444.8 305.8,445.0 307.4,444.7 309.0,445.1 310.6,444.2 312.2,445.1 313.8,443.2 315.4,443.9 317.0,443.7 318.6,443.6 320.2,442.5 321.8,441.8 323.4,442.5 325.0,441.7 326.6,442.2 328.2,441.3 329.8,441.0 331.4,439.3 333.0,439.6 334.6,439.1 336.2,438.0 337.8,438.2 339.4,438.3 341.0,440.1 342.6,439.2 344.2,438.7 345.8,437.1 347.4,436.9 349.0,436.8 350.6,435.2 352.2,433.8 353.8,434.2 355.4,433.9 357.0,433.5 358.6,433.1 360.2,432.7 361.8,434.9 363.4,433.9 365.0,433.3 366.6,431.5 368.2,431.2 369.8,430.1 371.4,431.4 373.0,431.7 374.6,432.1 376.2,432.3 377.8,433.9 379.4,433.8 381.0,432.9 382.6,429.5 384.2,429.0 385.8,430.0 387.4,430.5 389.0,431.3 390.6,431.0 392.2,431.3 393.8,430.5 395.4,432.1 397.0,430.9 398.6,431.5 400.2,431.7 401.8,431.2 403.4,431.9 405.0,432.3 406.6,431.0 408.2,430.0 409.8,430.6 411.4,431.2 413.0,431.8 414.6,432.2 416.2,432.4 417.8,433.3 419.4,433.6 421.0,434.2 422.6,435.5 424.2,435.9 425.8,436.5 427.4,436.1 429.0,436.3 430.6,436.2 432.2,436.2 433.8,435.4 435.4,436.0 437.0,436.9 438.6,438.3 440.2,438.1 441.8,438.8 443.4,438.3 445.0,436.9 446.6,437.8 448.2,436.8 449.8,436.2 451.4,434.2 453.0,434.2 454.6,433.4 456.2,433.0 457.8,434.3 459.4,434.1 461.0,434.7 462.6,433.9 464.2,434.3 465.8,434.5 467.4,434.3 469.0,435.1 470.6,435.8 472.2,435.1 473.8,435.1 475.4,435.3 477.0,434.6 478.6,434.2 480.2,433.5 481.8,434.5 483.4,434.1 485.0,433.6 486.6,433.6 488.2,432.3 489.8,430.1 491.4,430.2 493.0,429.3 494.6,427.9 496.2,425.6 497.8,424.3 499.4,423.4 501.0,423.7 502.6,425.0 504.2,426.5 505.8,427.0 507.4,428.2 509.0,427.6 510.6,428.0 512.2,427.3 513.8,427.0 515.4,427.1 517.0,427.4 518.6,429.7 520.2,430.6 521.8,431.8 523.4,432.5 525.0,433.1 526.6,432.3 528.2,432.1 529.8,433.2 531.4,433.8 533.0,434.9 534.6,434.7 536.2,434.2 537.8,434.9 539.4,434.9 541.0,434.3 542.6,434.5 544.2,434.6 545.8,435.6 547.4,434.3 549.0,434.7 550.6,436.0 552.2,437.4 553.8,437.3 555.4,438.1 557.0,438.3 558.6,438.4 560.2,437.0 561.8,436.6 563.4,436.2 565.0,435.1 566.6,434.8 568.2,434.5 569.8,433.6 571.4,434.1 573.0,433.8 574.6,433.8 576.2,434.1 579.2,433.2 580.4,424.0 581.4,411.0 582.3,403.8 583.2,411.0 584.3,424.0 585.8,432.4 589.0,434.6 590.6,435.8 592.2,436.0 593.8,436.6 595.4,434.8 597.0,433.6 598.6,432.9 600.2,433.8 601.8,435.1 603.4,434.2 605.0,435.4 606.6,435.2 608.2,436.0 609.8,435.8 611.4,435.8 613.0,437.1 614.6,436.9 616.2,436.2 617.8,437.8 619.4,437.5 621.0,438.3 622.6,439.5 624.2,440.2 625.8,441.6 627.4,441.0 629.0,442.2 630.6,441.5 632.2,441.2 633.8,440.8 635.4,441.2 637.0,439.4 638.6,439.1 640.2,438.3 641.8,438.0 643.4,436.9 645.0,436.1 646.6,435.8 648.2,434.7 649.8,435.5 651.4,433.9 653.0,433.3 654.6,432.4 654.8,432.4" fill="none" stroke="#2a2a2a" stroke-width="1.55" stroke-linejoin="round" />
<polyline points="73.8,456.3 75.4,457.4 77.0,457.8 78.6,457.4 80.2,457.9 81.8,458.1 83.4,459.5 85.0,460.2 86.6,461.5 88.2,460.6 89.8,462.4 91.4,461.7 93.0,461.4 94.6,460.3 96.2,459.9 97.8,460.7 99.4,461.3 101.0,461.5 102.6,462.3 104.2,463.5 105.8,463.4 107.4,463.7 109.0,465.0 110.6,465.1 112.2,465.1 113.8,465.9 115.4,464.8 117.0,463.2 118.6,463.7 120.2,465.7 121.8,466.4 123.4,466.1 125.0,466.0 126.6,466.8 128.2,467.3 129.8,467.2 131.4,468.0 133.0,468.6 134.6,468.5 136.2,468.1 137.8,468.5 139.4,468.3 141.0,468.2 142.6,466.6 144.2,466.6 145.8,466.7 147.4,466.5 149.0,467.7 150.6,468.4 152.2,468.4 153.8,469.0 155.4,468.0 157.0,467.2 158.6,467.1 160.2,468.9 161.8,469.2 163.4,470.8 165.0,471.5 166.6,470.9 168.2,471.7 169.8,471.3 171.4,471.6 173.0,470.9 174.6,471.0 176.2,471.2 177.8,470.9 179.4,471.9 181.0,471.7 182.6,472.1 184.2,471.7 185.8,472.2 187.4,471.6 189.0,470.8 190.6,471.7 192.2,472.5 193.8,473.3 195.4,472.3 197.0,473.9 198.6,474.0 200.2,473.4 201.8,472.6 203.4,473.7 205.0,473.1 206.6,474.5 208.2,474.7 209.8,473.0 211.4,473.2 213.0,472.3 214.6,472.9 216.2,473.3 217.8,473.4 219.4,471.6 221.0,471.9 222.6,472.3 224.2,472.5 225.8,471.9 227.4,471.5 229.0,472.0 230.6,472.0 232.2,471.7 233.8,471.1 235.4,472.2 237.0,473.1 238.6,473.8 240.2,474.2 241.8,474.1 243.4,474.7 245.0,475.1 246.6,474.1 248.2,472.9 249.8,473.2 251.4,472.1 253.0,472.6 254.6,471.5 256.2,471.5 257.8,471.6 259.4,473.4 261.0,474.1 262.6,472.7 264.2,472.9 265.8,474.1 267.4,474.2 269.0,475.3 270.6,474.9 272.2,474.8 273.8,474.9 275.4,474.4 277.0,474.8 278.6,474.4 280.2,475.3 281.8,474.7 283.4,475.4 285.0,476.7 286.6,476.3 288.2,477.1 289.8,476.9 291.4,476.9 293.0,476.3 294.6,475.9 296.2,474.8 297.8,474.0 299.4,473.5 301.0,473.0 302.6,472.1 304.2,471.8 305.8,471.5 307.4,471.2 309.0,470.6 310.6,469.5 312.2,470.2 313.8,470.3 315.4,470.7 317.0,470.5 318.6,469.3 320.2,468.6 321.8,469.2 323.4,469.1 325.0,469.9 326.6,470.3 328.2,468.7 329.8,468.9 331.4,468.8 333.0,468.9 334.6,468.8 336.2,468.7 337.8,468.9 339.4,468.5 341.0,469.4 342.6,469.4 344.2,469.4 345.8,468.6 347.4,468.6 349.0,468.2 350.6,467.7 352.2,467.4 353.8,467.0 355.4,466.6 357.0,466.6 358.6,466.3 360.2,466.8 361.8,467.0 363.4,467.5 365.0,466.5 366.6,466.9 368.2,465.7 369.8,465.1 371.4,465.7 373.0,465.9 374.6,466.6 376.2,466.1 377.8,465.8 379.4,465.7 381.0,466.1 382.6,463.2 384.2,461.1 385.8,462.1 387.4,462.0 389.0,463.9 390.6,462.6 392.2,463.8 393.8,464.1 395.4,463.4 397.0,464.3 398.6,464.7 400.2,464.6 401.8,464.7 403.4,465.3 405.0,464.9 406.6,464.4 408.2,463.5 409.8,464.3 411.4,464.1 413.0,465.4 414.6,465.3 416.2,465.4 417.8,466.6 419.4,468.1 421.0,468.8 422.6,469.2 424.2,470.2 425.8,470.1 427.4,470.7 429.0,470.8 430.6,469.8 432.2,471.0 433.8,470.7 435.4,471.1 437.0,471.1 438.6,471.3 440.2,471.8 441.8,472.8 443.4,473.1 445.0,472.1 446.6,472.4 448.2,471.3 449.8,470.0 451.4,470.3 453.0,469.2 454.6,468.5 456.2,469.3 457.8,470.0 459.4,469.4 461.0,469.0 462.6,469.4 464.2,469.5 465.8,469.8 467.4,470.8 469.0,471.6 470.6,470.6 472.2,470.9 473.8,470.8 475.4,470.5 477.0,470.4 478.6,469.4 480.2,469.6 481.8,469.9 483.4,469.2 485.0,468.4 486.6,468.8 488.2,468.7 489.8,467.5 491.4,466.3 493.0,466.6 494.6,464.0 496.2,463.1 497.8,461.3 499.4,459.3 501.0,460.9 502.6,461.4 504.2,461.8 505.8,463.7 507.4,463.8 509.0,463.3 510.6,464.1 512.2,464.7 513.8,465.0 515.4,464.9 517.0,465.4 518.6,466.5 520.2,467.1 521.8,468.3 523.4,468.3 525.0,468.8 526.6,469.1 528.2,468.6 529.8,468.9 531.4,470.1 533.0,469.7 534.6,469.6 536.2,470.0 537.8,469.7 539.4,470.1 541.0,469.8 542.6,470.3 544.2,469.4 545.8,470.7 547.4,469.7 549.0,469.7 550.6,471.8 552.2,473.2 553.8,474.1 555.4,473.8 557.0,474.7 558.6,476.3 560.2,474.1 561.8,474.9 563.4,474.5 565.0,474.5 566.6,473.3 568.2,473.0 569.8,472.7 571.4,471.5 573.0,472.1 574.6,471.1 576.2,471.6 577.0,471.6 579.4,469.5 580.6,461.0 581.5,453.0 582.4,448.8 583.3,453.5 584.4,462.0 585.9,471.3 589.0,473.5 590.6,475.7 592.2,475.0 593.8,472.9 595.4,473.7 597.0,472.5 598.6,472.4 600.2,471.8 601.8,473.4 603.4,473.6 605.0,473.8 606.6,473.7 608.2,473.8 609.8,474.2 611.4,474.9 613.0,474.8 614.6,474.7 616.2,476.0 617.8,476.0 619.4,476.5 621.0,476.8 622.6,477.5 624.2,478.1 625.8,477.1 627.4,478.6 629.0,478.1 630.6,477.5 632.2,477.6 633.8,477.0 635.4,476.5 637.0,474.8 638.6,475.4 640.2,475.3 641.8,475.2 643.4,474.8 645.0,474.0 646.6,472.6 648.2,472.0 649.8,473.0 651.4,472.6 653.0,472.8 654.6,472.1 654.8,472.1" fill="none" stroke="#2a2a2a" stroke-width="1.55" stroke-linejoin="round" />
<polyline points="73.8,495.0 75.4,496.0 77.0,496.4 78.6,497.0 80.2,498.0 81.8,497.4 83.4,498.4 85.0,498.5 86.6,499.5 88.2,500.5 89.8,500.0 91.4,499.8 93.0,498.4 94.6,499.2 96.2,499.1 97.8,500.7 99.4,499.5 101.0,498.9 102.6,499.2 104.2,500.3 105.8,500.7 107.4,500.5 109.0,500.8 110.6,501.2 112.2,501.2 113.8,501.5 115.4,501.9 117.0,501.8 118.6,502.6 120.2,501.7 121.8,503.0 123.4,502.5 125.0,502.7 126.6,502.5 128.2,503.4 129.8,503.8 131.4,504.3 133.0,504.4 134.6,504.8 136.2,505.7 137.8,505.1 139.4,504.7 141.0,505.1 142.6,504.4 144.2,504.4 145.8,504.3 147.4,504.0 149.0,503.4 150.6,504.2 152.2,504.6 153.8,504.1 155.4,504.3 157.0,504.5 158.6,504.3 160.2,505.7 161.8,506.4 163.4,506.7 165.0,506.9 166.6,507.0 168.2,507.7 169.8,506.8 171.4,506.4 173.0,506.4 174.6,505.5 176.2,505.2 177.8,505.5 179.4,506.1 181.0,506.3 182.6,505.7 184.2,505.9 185.8,506.7 187.4,506.7 189.0,506.8 190.6,507.9 192.2,508.9 193.8,508.6 195.4,508.9 197.0,508.3 198.6,508.4 200.2,509.2 201.8,509.5 203.4,509.9 205.0,510.4 206.6,511.0 208.2,510.8 209.8,509.1 211.4,509.0 213.0,509.3 214.6,509.2 216.2,508.1 217.8,509.1 219.4,508.1 221.0,508.0 222.6,508.0 224.2,508.4 225.8,507.8 227.4,509.2 229.0,508.9 230.6,508.4 232.2,508.6 233.8,507.6 235.4,508.9 237.0,510.1 238.6,510.4 240.2,511.2 241.8,511.9 243.4,512.6 245.0,513.0 246.6,512.1 248.2,511.6 249.8,511.6 251.4,511.9 253.0,510.1 254.6,509.3 256.2,508.9 257.8,511.2 259.4,511.2 261.0,511.8 262.6,511.3 264.2,511.1 265.8,512.4 267.4,512.9 269.0,512.7 270.6,512.0 272.2,512.4 273.8,511.8 275.4,512.9 277.0,511.3 278.6,512.0 280.2,513.0 281.8,513.1 283.4,513.8 285.0,515.2 286.6,514.8 288.2,514.9 289.8,514.5 291.4,515.1 293.0,514.9 294.6,514.4 296.2,513.9 297.8,514.0 299.4,513.8 301.0,513.0 302.6,513.3 304.2,511.8 305.8,511.9 307.4,512.2 309.0,512.5 310.6,512.1 312.2,512.9 313.8,513.0 315.4,512.4 317.0,512.0 318.6,512.0 320.2,511.3 321.8,510.2 323.4,510.2 325.0,511.0 326.6,510.5 328.2,511.6 329.8,510.9 331.4,510.2 333.0,509.6 334.6,509.6 336.2,509.3 337.8,508.8 339.4,508.1 341.0,508.9 342.6,509.4 344.2,509.2 345.8,508.5 347.4,508.0 349.0,507.5 350.6,506.9 352.2,505.7 353.8,505.6 355.4,505.0 357.0,504.3 358.6,504.7 360.2,506.5 361.8,504.9 363.4,504.0 365.0,504.3 366.6,504.7 368.2,503.5 369.8,503.2 371.4,503.2 373.0,503.7 374.6,504.7 376.2,504.4 377.8,503.9 379.4,504.3 381.0,503.5 382.6,500.0 384.2,499.2 385.8,499.7 387.4,499.8 389.0,500.9 390.6,500.6 392.2,500.6 393.8,500.3 395.4,500.5 397.0,501.8 398.6,500.6 400.2,501.3 401.8,500.8 403.4,501.2 405.0,501.1 406.6,500.3 408.2,500.0 409.8,500.2 411.4,501.1 413.0,501.8 414.6,502.0 416.2,502.8 417.8,503.4 419.4,503.9 421.0,504.4 422.6,506.0 424.2,506.2 425.8,506.7 427.4,507.6 429.0,506.7 430.6,506.8 432.2,506.4 433.8,506.7 435.4,506.8 437.0,507.9 438.6,507.5 440.2,507.0 441.8,508.0 443.4,506.4 445.0,507.2 446.6,506.8 448.2,506.1 449.8,505.1 451.4,504.5 453.0,503.6 454.6,504.4 456.2,503.2 457.8,504.2 459.4,504.6 461.0,504.4 462.6,503.9 464.2,504.6 465.8,504.3 467.4,504.9 469.0,505.1 470.6,504.4 472.2,503.4 473.8,504.1 475.4,503.7 477.0,504.3 478.6,504.7 480.2,504.0 481.8,504.7 483.4,504.6 485.0,504.3 486.6,503.7 488.2,503.8 489.8,502.5 491.4,503.0 493.0,501.9 494.6,501.6 496.2,499.8 497.8,497.4 499.4,498.1 501.0,497.8 502.6,499.1 504.2,498.9 505.8,499.6 507.4,500.7 509.0,500.8 510.6,500.9 512.2,501.2 513.8,503.0 515.4,501.3 517.0,501.1 518.6,502.8 520.2,504.4 521.8,505.6 523.4,505.6 525.0,505.7 526.6,505.7 528.2,506.1 529.8,506.1 531.4,506.2 533.0,508.4 534.6,507.7 536.2,508.7 537.8,508.3 539.4,508.6 541.0,508.4 542.6,507.8 544.2,508.3 545.8,508.5 547.4,508.6 549.0,508.7 550.6,509.8 552.2,510.3 553.8,510.6 555.4,510.1 557.0,511.1 558.6,511.8 560.2,510.9 561.8,510.9 563.4,510.5 565.0,510.4 566.6,511.9 568.2,511.0 569.8,511.1 571.4,510.2 573.0,509.5 574.6,508.3 576.2,509.2 578.7,508.7 580.6,503.5 581.7,499.5 582.5,497.0 583.4,500.0 584.7,505.5 586.8,511.3 589.0,511.9 590.6,512.1 592.2,512.2 593.8,512.2 595.4,510.5 597.0,511.7 598.6,510.8 600.2,511.3 601.8,511.2 603.4,510.1 605.0,511.0 606.6,511.3 608.2,510.9 609.8,511.3 611.4,512.2 613.0,511.6 614.6,512.9 616.2,513.8 617.8,514.1 619.4,514.1 621.0,515.1 622.6,516.4 624.2,516.8 625.8,516.4 627.4,515.7 629.0,515.7 630.6,515.5 632.2,515.1 633.8,515.1 635.4,515.2 637.0,514.8 638.6,512.8 640.2,513.8 641.8,512.9 643.4,512.8 645.0,511.8 646.6,511.8 648.2,512.2 649.8,510.0 651.4,511.8 653.0,510.9 654.6,509.6 654.8,510.4" fill="none" stroke="#2a2a2a" stroke-width="1.55" stroke-linejoin="round" />
<polyline points="73.8,537.3 75.4,536.4 77.0,538.7 78.6,538.7 80.2,539.6 81.8,539.5 83.4,540.5 85.0,540.1 86.6,540.4 88.2,541.4 89.8,541.3 91.4,540.5 93.0,540.1 94.6,540.4 96.2,540.2 97.8,539.7 99.4,540.0 101.0,539.7 102.6,541.7 104.2,541.4 105.8,542.6 107.4,542.5 109.0,543.6 110.6,543.7 112.2,543.5 113.8,544.1 115.4,543.2 117.0,544.4 118.6,543.3 120.2,544.4 121.8,544.9 123.4,544.8 125.0,544.6 126.6,544.3 128.2,544.4 129.8,544.9 131.4,544.9 133.0,544.5 134.6,544.1 136.2,545.1 137.8,543.8 139.4,543.9 141.0,543.5 142.6,544.0 144.2,543.8 145.8,544.0 147.4,544.0 149.0,543.7 150.6,544.3 152.2,544.9 153.8,544.4 155.4,544.8 157.0,544.5 158.6,545.2 160.2,545.1 161.8,545.5 163.4,545.5 165.0,546.4 166.6,545.7 168.2,545.4 169.8,545.0 171.4,545.3 173.0,544.7 174.6,544.7 176.2,545.3 177.8,545.6 179.4,545.6 181.0,544.4 182.6,545.4 184.2,545.5 185.8,545.6 187.4,546.1 189.0,547.3 190.6,546.7 192.2,546.9 193.8,548.0 195.4,548.0 197.0,548.1 198.6,547.7 200.2,548.0 201.8,548.4 203.4,547.7 205.0,548.3 206.6,549.9 208.2,549.6 209.8,548.6 211.4,548.0 213.0,547.9 214.6,547.5 216.2,547.8 217.8,548.7 219.4,548.0 221.0,548.3 222.6,547.6 224.2,547.7 225.8,548.1 227.4,546.9 229.0,547.4 230.6,547.6 232.2,547.9 233.8,548.7 235.4,548.5 237.0,547.7 238.6,548.5 240.2,548.5 241.8,548.8 243.4,550.4 245.0,548.8 246.6,549.3 248.2,548.7 249.8,549.1 251.4,548.5 253.0,548.0 254.6,547.5 256.2,548.1 257.8,547.4 259.4,547.8 261.0,547.9 262.6,549.1 264.2,548.6 265.8,548.4 267.4,548.9 269.0,550.3 270.6,549.3 272.2,549.9 273.8,549.6 275.4,549.3 277.0,548.9 278.6,549.1 280.2,549.3 281.8,548.6 283.4,551.0 285.0,550.4 286.6,550.3 288.2,550.4 289.8,550.3 291.4,551.0 293.0,550.2 294.6,550.3 296.2,549.3 297.8,550.0 299.4,550.6 301.0,549.4 302.6,549.9 304.2,549.5 305.8,550.0 307.4,550.0 309.0,549.5 310.6,549.1 312.2,549.4 313.8,549.2 315.4,548.8 317.0,549.0 318.6,548.8 320.2,548.0 321.8,548.1 323.4,549.2 325.0,548.0 326.6,547.4 328.2,548.4 329.8,546.9 331.4,545.9 333.0,545.9 334.6,545.9 336.2,546.6 337.8,546.7 339.4,545.1 341.0,546.3 342.6,545.1 344.2,545.5 345.8,545.4 347.4,545.2 349.0,544.8 350.6,544.7 352.2,543.8 353.8,544.1 355.4,544.1 357.0,544.0 358.6,544.9 360.2,544.3 361.8,544.3 363.4,545.0 365.0,544.5 366.6,544.1 368.2,543.5 369.8,544.7 371.4,544.1 373.0,543.9 374.6,543.5 376.2,543.9 377.8,544.7 379.4,543.8 381.0,541.5 382.6,540.3 384.2,540.6 385.8,539.9 387.4,539.6 389.0,540.0 390.6,540.6 392.2,541.8 393.8,541.7 395.4,541.4 397.0,541.1 398.6,541.6 400.2,541.6 401.8,541.4 403.4,541.4 405.0,541.1 406.6,542.3 408.2,540.5 409.8,541.8 411.4,541.5 413.0,542.4 414.6,542.1 416.2,542.4 417.8,542.6 419.4,542.9 421.0,543.8 422.6,543.2 424.2,544.8 425.8,544.4 427.4,544.7 429.0,545.3 430.6,545.2 432.2,545.7 433.8,543.9 435.4,544.5 437.0,545.5 438.6,544.7 440.2,545.2 441.8,546.1 443.4,545.7 445.0,544.8 446.6,545.3 448.2,545.3 449.8,544.5 451.4,543.9 453.0,543.5 454.6,542.2 456.2,543.2 457.8,543.0 459.4,543.9 461.0,544.1 462.6,543.7 464.2,544.5 465.8,544.5 467.4,544.4 469.0,544.8 470.6,544.5 472.2,544.6 473.8,544.7 475.4,544.7 477.0,545.2 478.6,543.6 480.2,544.6 481.8,543.8 483.4,544.5 485.0,544.8 486.6,544.6 488.2,544.9 489.8,544.6 491.4,542.8 493.0,542.8 494.6,543.3 496.2,542.3 497.8,540.6 499.4,538.8 501.0,540.7 502.6,539.2 504.2,540.6 505.8,540.8 507.4,541.2 509.0,540.9 510.6,541.6 512.2,542.6 513.8,542.2 515.4,542.1 517.0,543.1 518.6,543.7 520.2,544.2 521.8,544.5 523.4,545.1 525.0,544.8 526.6,544.2 528.2,544.8 529.8,545.0 531.4,545.5 533.0,545.1 534.6,545.9 536.2,546.6 537.8,547.0 539.4,546.9 541.0,547.1 542.6,547.5 544.2,547.9 545.8,548.4 547.4,547.8 549.0,547.3 550.6,547.9 552.2,547.0 553.8,548.2 555.4,548.3 557.0,548.5 558.6,548.7 560.2,548.5 561.8,547.8 563.4,548.4 565.0,548.3 566.6,548.8 568.2,549.1 569.8,548.6 571.4,549.3 573.0,549.6 574.6,548.9 576.2,549.3 580.4,547.6 582.7,546.2 585.6,548.5 589.0,548.4 590.6,549.3 592.2,549.3 593.8,550.2 595.4,550.2 597.0,549.4 598.6,549.8 600.2,548.1 601.8,549.2 603.4,548.5 605.0,548.7 606.6,547.3 608.2,548.8 609.8,548.8 611.4,548.3 613.0,549.6 614.6,550.3 616.2,551.2 617.8,551.4 619.4,551.7 621.0,552.7 622.6,552.8 624.2,552.9 625.8,553.1 627.4,553.7 629.0,553.5 630.6,554.1 632.2,552.8 633.8,553.2 635.4,552.2 637.0,552.1 638.6,550.7 640.2,550.5 641.8,550.5 643.4,550.8 645.0,550.3 646.6,550.4 648.2,550.1 649.8,550.3 651.4,549.8 653.0,549.3 654.6,549.6 654.8,549.4" fill="none" stroke="#2a2a2a" stroke-width="1.55" stroke-linejoin="round" />
<polyline points="73.8,559.4 75.4,559.4 77.0,559.6 78.6,559.5 80.2,561.0 81.8,562.2 83.4,562.0 85.0,562.6 86.6,563.0 88.2,562.3 89.8,564.0 91.4,562.5 93.0,563.3 94.6,564.6 96.2,563.7 97.8,564.7 99.4,564.6 101.0,564.7 102.6,563.8 104.2,565.0 105.8,566.2 107.4,565.5 109.0,565.3 110.6,565.6 112.2,565.6 113.8,565.5 115.4,565.7 117.0,564.7 118.6,565.8 120.2,565.4 121.8,566.2 123.4,565.8 125.0,565.3 126.6,565.5 128.2,565.0 129.8,566.0 131.4,565.8 133.0,566.4 134.6,565.7 136.2,566.9 137.8,565.9 139.4,566.6 141.0,566.3 142.6,565.5 144.2,566.2 145.8,565.9 147.4,566.6 149.0,567.5 150.6,567.5 152.2,567.8 153.8,566.7 155.4,567.1 157.0,567.1 158.6,567.7 160.2,567.4 161.8,568.3 163.4,568.6 165.0,567.8 166.6,568.1 168.2,568.8 169.8,568.1 171.4,568.2 173.0,569.2 174.6,569.0 176.2,568.9 177.8,569.1 179.4,569.0 181.0,569.1 182.6,569.3 184.2,569.8 185.8,570.4 187.4,569.8 189.0,570.2 190.6,570.3 192.2,570.0 193.8,570.9 195.4,571.4 197.0,570.6 198.6,571.4 200.2,570.7 201.8,571.6 203.4,571.7 205.0,571.1 206.6,570.5 208.2,571.2 209.8,570.6 211.4,570.5 213.0,570.9 214.6,571.4 216.2,570.5 217.8,570.3 219.4,569.4 221.0,569.8 222.6,569.4 224.2,570.2 225.8,569.7 227.4,570.0 229.0,570.1 230.6,570.1 232.2,570.8 233.8,570.8 235.4,570.6 237.0,571.0 238.6,571.3 240.2,571.8 241.8,571.4 243.4,572.0 245.0,571.0 246.6,571.1 248.2,570.4 249.8,571.3 251.4,570.1 253.0,569.8 254.6,570.4 256.2,569.7 257.8,569.6 259.4,570.3 261.0,569.8 262.6,570.1 264.2,569.2 265.8,569.4 267.4,569.6 269.0,569.3 270.6,570.2 272.2,569.3 273.8,569.2 275.4,569.1 277.0,569.3 278.6,568.7 280.2,568.9 281.8,569.6 283.4,570.3 285.0,569.9 286.6,569.8 288.2,570.6 289.8,571.2 291.4,570.6 293.0,570.8 294.6,569.8 296.2,570.5 297.8,570.4 299.4,570.5 301.0,570.1 302.6,570.2 304.2,569.3 305.8,570.0 307.4,568.8 309.0,569.2 310.6,569.8 312.2,569.5 313.8,568.2 315.4,569.2 317.0,568.7 318.6,568.4 320.2,568.8 321.8,568.7 323.4,569.2 325.0,567.8 326.6,568.2 328.2,568.2 329.8,567.3 331.4,568.6 333.0,568.7 334.6,567.5 336.2,567.8 337.8,567.4 339.4,567.6 341.0,567.1 342.6,567.7 344.2,566.7 345.8,567.7 347.4,567.2 349.0,568.1 350.6,566.1 352.2,566.6 353.8,565.8 355.4,566.1 357.0,566.1 358.6,565.4 360.2,565.1 361.8,565.0 363.4,565.9 365.0,566.5 366.6,566.5 368.2,565.8 369.8,565.1 371.4,565.1 373.0,564.3 374.6,564.3 376.2,565.5 377.8,564.9 379.4,564.9 381.0,563.5 382.6,563.1 384.2,562.8 385.8,562.0 387.4,562.5 389.0,562.6 390.6,563.7 392.2,563.8 393.8,563.2 395.4,564.5 397.0,563.6 398.6,563.2 400.2,562.9 401.8,563.8 403.4,563.9 405.0,563.4 406.6,563.7 408.2,564.1 409.8,563.7 411.4,564.3 413.0,564.9 414.6,564.6 416.2,564.3 417.8,564.9 419.4,565.2 421.0,566.1 422.6,565.1 424.2,564.8 425.8,565.8 427.4,565.8 429.0,565.5 430.6,566.0 432.2,565.9 433.8,566.5 435.4,565.8 437.0,566.1 438.6,566.4 440.2,566.1 441.8,566.7 443.4,566.3 445.0,565.9 446.6,566.5 448.2,566.0 449.8,566.1 451.4,565.4 453.0,564.4 454.6,563.9 456.2,564.3 457.8,564.2 459.4,565.0 461.0,565.8 462.6,565.6 464.2,565.2 465.8,566.7 467.4,565.2 469.0,566.0 470.6,566.0 472.2,566.3 473.8,565.3 475.4,565.7 477.0,565.6 478.6,566.2 480.2,566.0 481.8,566.1 483.4,566.2 485.0,566.8 486.6,566.0 488.2,565.8 489.8,564.7 491.4,565.1 493.0,563.7 494.6,564.1 496.2,563.0 497.8,561.7 499.4,560.8 501.0,561.4 502.6,561.8 504.2,561.8 505.8,562.3 507.4,562.7 509.0,563.0 510.6,563.5 512.2,564.2 513.8,565.0 515.4,565.1 517.0,565.1 518.6,566.8 520.2,567.3 521.8,566.8 523.4,567.2 525.0,566.4 526.6,566.2 528.2,566.6 529.8,568.0 531.4,567.8 533.0,568.2 534.6,568.1 536.2,567.9 537.8,568.3 539.4,568.3 541.0,568.7 542.6,567.3 544.2,568.3 545.8,568.0 547.4,567.1 549.0,568.5 550.6,569.0 552.2,569.0 553.8,568.7 555.4,568.7 557.0,567.8 558.6,568.9 560.2,568.9 561.8,568.6 563.4,569.2 565.0,568.9 566.6,570.3 568.2,568.7 569.8,568.9 571.4,568.3 573.0,569.1 574.6,569.2 576.2,569.0 579.6,568.7 583.0,568.4 589.0,570.0 590.6,570.5 592.2,570.0 593.8,569.3 595.4,570.0 597.0,569.4 598.6,570.1 600.2,569.2 601.8,569.2 603.4,569.3 605.0,568.8 606.6,569.4 608.2,570.1 609.8,569.6 611.4,570.0 613.0,570.3 614.6,570.1 616.2,570.4 617.8,571.0 619.4,570.8 621.0,571.3 622.6,571.4 624.2,571.0 625.8,570.9 627.4,572.4 629.0,572.1 630.6,571.4 632.2,571.8 633.8,571.7 635.4,571.5 637.0,570.8 638.6,570.0 640.2,569.8 641.8,570.0 643.4,570.4 645.0,570.4 646.6,569.5 648.2,569.4 649.8,570.0 651.4,570.3 653.0,568.9 654.6,569.4 654.8,569.2" fill="none" stroke="#2a2a2a" stroke-width="1.55" stroke-linejoin="round" />
<rect x="73.0" y="367.6" width="582.9" height="254.9" fill="none" stroke="#000" stroke-width="1.05"/>
<path d="M89.19,622.5v-2M105.38,622.5v-4M121.57,622.5v-2M137.77,622.5v-2M153.96,622.5v-2M170.15,622.5v-4M186.34,622.5v-2M202.53,622.5v-2M218.72,622.5v-2M234.92,622.5v-4M251.11,622.5v-2M267.30,622.5v-2M283.49,622.5v-2M299.68,622.5v-4M315.88,622.5v-2M332.07,622.5v-2M348.26,622.5v-2M364.45,622.5v-4M380.64,622.5v-2M396.83,622.5v-2M413.03,622.5v-2M429.22,622.5v-4M445.41,622.5v-2M461.60,622.5v-2M477.79,622.5v-2M493.98,622.5v-4M510.17,622.5v-2M526.37,622.5v-2M542.56,622.5v-2M558.75,622.5v-4M574.94,622.5v-2M591.13,622.5v-2M607.32,622.5v-2M623.52,622.5v-4M639.71,622.5v-2" stroke="#555" stroke-width="1" fill="none"/>
<path d="M89.19,367.6v2M105.38,367.6v4M121.57,367.6v2M137.77,367.6v2M153.96,367.6v2M170.15,367.6v4M186.34,367.6v2M202.53,367.6v2M218.72,367.6v2M234.92,367.6v4M251.11,367.6v2M267.30,367.6v2M283.49,367.6v2M299.68,367.6v4M315.88,367.6v2M332.07,367.6v2M348.26,367.6v2M364.45,367.6v4M380.64,367.6v2M396.83,367.6v2M413.03,367.6v2M429.22,367.6v4M445.41,367.6v2M461.60,367.6v2M477.79,367.6v2M493.98,367.6v4M510.17,367.6v2M526.37,367.6v2M542.56,367.6v2M558.75,367.6v4M574.94,367.6v2M591.13,367.6v2M607.32,367.6v2M623.52,367.6v4M639.71,367.6v2" stroke="#777" stroke-width="1" fill="none"/>
<path d="M73.0,580.02h4.5M73.0,537.53h4.5M73.0,495.05h4.5M73.0,452.57h4.5M73.0,410.08h4.5" stroke="#666" stroke-width="1" fill="none"/>
<path d="M655.9,580.02h-4M655.9,537.53h-4M655.9,495.05h-4M655.9,452.57h-4M655.9,410.08h-4" stroke="#aaa" stroke-width="1" fill="none"/>
<text x="105.4" y="635.8" text-anchor="middle" font-size="13">01:00</text>
<text x="170.1" y="635.8" text-anchor="middle" font-size="13">02:00</text>
<text x="234.9" y="635.8" text-anchor="middle" font-size="13">03:00</text>
<text x="299.7" y="635.8" text-anchor="middle" font-size="13">04:00</text>
<text x="364.4" y="635.8" text-anchor="middle" font-size="13">05:00</text>
<text x="429.2" y="635.8" text-anchor="middle" font-size="13">06:00</text>
<text x="494.0" y="635.8" text-anchor="middle" font-size="13">07:00</text>
<text x="558.8" y="635.8" text-anchor="middle" font-size="13">08:00</text>
<text x="623.5" y="635.8" text-anchor="middle" font-size="13">09:00</text>
<text x="69.5" y="625.7" text-anchor="end" font-size="13">0.000</text>
<text x="69.5" y="583.2" text-anchor="end" font-size="13">0.005</text>
<text x="69.5" y="540.7" text-anchor="end" font-size="13">0.010</text>
<text x="69.5" y="498.2" text-anchor="end" font-size="13">0.015</text>
<text x="69.5" y="455.8" text-anchor="end" font-size="13">0.020</text>
<text x="69.5" y="413.3" text-anchor="end" font-size="13">0.025</text>
<text x="69.5" y="370.8" text-anchor="end" font-size="13">0.030</text>
<text x="364.4" y="652.9" text-anchor="middle" font-size="13">UT</text>
<text transform="translate(24.9,495.1) rotate(-90)" text-anchor="middle" font-size="12.4">correlation coefficient</text></svg>
</body></html>
